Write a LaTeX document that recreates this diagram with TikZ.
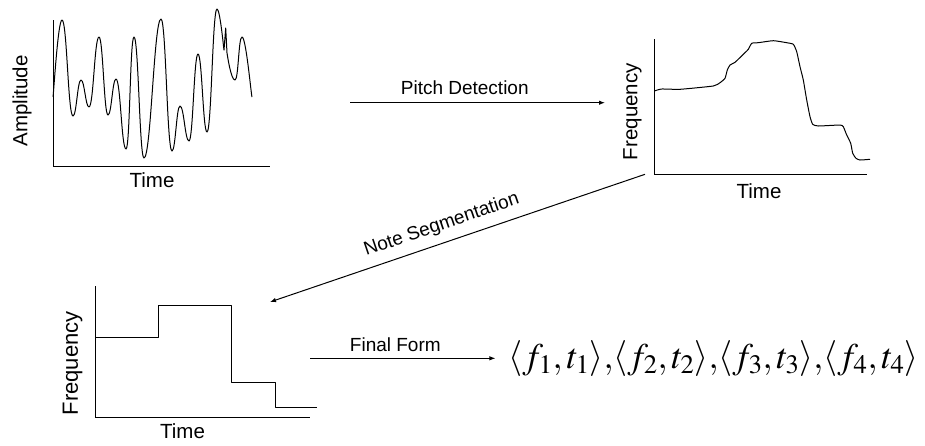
\documentclass[tikz,border=0pt]{standalone}
\usepackage{amsmath}
\usepackage{mathptmx}
\usepackage[no-math]{fontspec}
\setmainfont{Liberation Sans}
\usetikzlibrary{arrows.meta,positioning}

\begin{document}
\begin{tikzpicture}[
      x=1pt, y=-1pt,
      axislabel/.style = {inner sep=0pt, font=\fontsize{20.5}{24}\selectfont},
      steplabel/.style = {inner sep=0pt, font=\fontsize{19}{23}\selectfont},
      axes/.style = {line width=1pt},
      curve/.style = {line width=1pt, line join=round},
      arrow/.style = {-{Latex[length=6pt,width=4.5pt]}, line width=1pt}
    ]
    \useasboundingbox (0,0) rectangle (925,445);
    % raw signal
    \draw[axes] (53,20) |- (270,166);
    \node[axislabel, rotate=90] (amp) at (22,101) {Amplitude};
    \node[axislabel] (time-a) at (152,180) {Time};
    \draw[curve] (53,97) to[out=80,in=180,distance=4pt] (62,20)
      foreach \px/\py/\dd in {73/116/5, 81/80/3.5, 89/107/3.5, 99/37/4.5, 108/115/4,
        116/79/3.5, 126/149/4.5, 134/37/4, 144/158/4.5, 161/19/7, 172/151/5,
        180/106/3.5, 189/141/4, 198/54/4, 207/132/4, 217/9/4.5}
        { to[out=0,in=180,distance=\dd pt] (\px,\py) }
      to[out=0,in=100,distance=3pt] (224,50) -- (225.7,28) -- (227,53)
      to[out=-80,in=180,distance=4pt] (235,80)
      to[out=0,in=180,distance=3.5pt] (242,37)
      to[out=0,in=105,distance=4pt] (252,97);
    % pitch track
    \draw[axes] (654.3,39) |- (866.7,174);
    \node[axislabel, rotate=90] (freq-a) at (632.5,111.7) {Frequency};
    \node[axislabel] (time-b) at (759,190.7) {Time};
    \draw[curve] plot[smooth, tension=0.3] coordinates {
      (654.3,91) (661.7,89) (680,89.3) (713.3,86) (720,82.7) (725,78.3)
      (727.3,70) (730,65) (735,62.3) (743.3,54.3) (748.3,49.3) (751.7,43.3)
      (758.3,42.7) (773.3,40.7) (786.7,42.7) (793.3,44.3) (796.7,51.7)
      (800,66.7) (803.3,80) (806.7,100) (810,116.7) (812.7,124.3) (818.3,126)
      (840,125) (843.3,126.7) (846.7,135) (850.7,143.3) (852.7,153.3)
      (856,158.3) (860,160) (870,159.3)};
    % segmented notes
    \draw[axes] (95,286) |- (310,417.7);
    \node[axislabel, rotate=90, font=\fontsize{22}{26}\selectfont] (freq-b) at (72.5,363.3) {Frequency};
    \node[axislabel] (time-c) at (182.5,430.7) {Time};
    \draw[curve] (95,337.3) -| (158.3,305) -| (231.7,382.7) -| (275,407.7) -- (317.3,407.7);
    % result
    \node[inner sep=0pt, font=\fontsize{36}{40}\selectfont] (form) at (713.5,359)
      {${\left\langle f_1,t_1\right\rangle}{,}{\left\langle f_2,t_2\right\rangle}{,}{\left\langle f_3,t_3\right\rangle}{,}{\left\langle f_4,t_4\right\rangle}$};
    % steps
    \coordinate (pd-a) at (350,102.7);
    \coordinate (pd-b) at (605,102.7);
    \coordinate (ns-a) at (645,174.3);
    \coordinate (ns-b) at (270,302);
    \coordinate (ff-a) at (310,358.3);
    \draw[arrow] (pd-a) -- node[steplabel, pos=0.45, above=8pt] (pd-lbl) {Pitch Detection} (pd-b);
    \draw[arrow] (ns-a) -- (ns-b);
    \node[steplabel, rotate=18.8] (ns-lbl) at (441.7,225) {Note Segmentation};
    \draw[arrow, shorten >=13pt] (ff-a) -- node[steplabel, pos=0.43, above=6.5pt] (ff-lbl) {Final Form} (ff-a -| form.west);
\end{tikzpicture}
\end{document}
